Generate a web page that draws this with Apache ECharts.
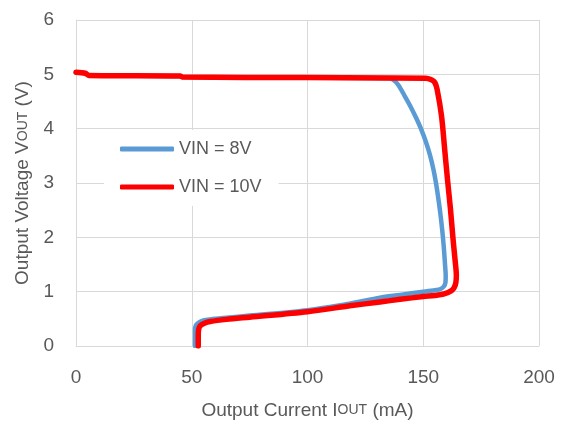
<!DOCTYPE html>
<html>
<head>
<meta charset="utf-8">
<script src="https://cdn.jsdelivr.net/npm/echarts@6/dist/echarts.min.js"></script>
<style>html,body{margin:0;padding:0;background:#fff}#c{width:563px;height:425px}</style>
</head>
<body>
<div id="c"></div>
<script>
var seriesNames = ['VIN = 8V', 'VIN = 10V'];
var xTicks = [0, 50, 100, 150, 200];
var yTicks = [0, 1, 2, 3, 4, 5, 6];
// Output current (mA) and output voltage (V), traced in order along each curve
var vin8Current = [0, 4, 5.5, 45, 46, 100, 135, 137, 139.3, 142, 144.6, 146.9, 149.0, 151.2, 153.0, 154.4, 155.5, 156.4, 157.2, 157.9, 158.5, 159.0, 159.4, 159.7, 159.6, 158.8, 157.5, 155.7, 150, 140, 131.3, 118, 100, 75, 65, 58, 55, 53, 51.8, 51.4, 51.4];
var vin8Voltage = [5.04, 5.02, 4.98, 4.97, 4.95, 4.94, 4.93, 4.9, 4.8, 4.6, 4.4, 4.2, 4.0, 3.75, 3.5, 3.25, 3.0, 2.75, 2.5, 2.25, 2.0, 1.75, 1.5, 1.3, 1.17, 1.09, 1.05, 1.03, 1.0, 0.94, 0.89, 0.78, 0.66, 0.56, 0.52, 0.49, 0.47, 0.43, 0.38, 0.3, 0];
var vin10Current = [0, 4, 5.5, 45, 46, 100, 151, 153.5, 155, 156, 157.9, 159.3, 160.6, 161.8, 162.8, 163.7, 164.3, 164.1, 163.4, 162.2, 159, 155, 150, 140, 131.3, 118.3, 100, 75, 65, 58, 55.5, 53.6, 53, 52.8, 52.8];
var vin10Voltage = [5.04, 5.02, 4.98, 4.97, 4.95, 4.94, 4.93, 4.9, 4.85, 4.72, 4.23, 3.6, 3.01, 2.5, 2.0, 1.6, 1.3, 1.17, 1.08, 1.02, 0.96, 0.93, 0.91, 0.86, 0.81, 0.74, 0.63, 0.53, 0.49, 0.45, 0.42, 0.37, 0.31, 0.2, 0];

function pairs(xs, ys) { return xs.map(function (x, i) { return [x, ys[i]]; }); }

var font = 'Liberation Sans';
var textColor = '#595959';
var gridColor = '#d9d9d9';

var chart = echarts.init(document.getElementById('c'));
chart.setOption({
  animation: false,
  backgroundColor: '#fff',
  grid: { left: 76, right: 24, top: 20, bottom: 78, containLabel: false },
  legend: {
    orient: 'vertical',
    left: 104, top: 130,
    padding: [9, 17, 9, 16],
    backgroundColor: '#fff',
    itemWidth: 54, itemHeight: 5, itemGap: 18,
    icon: 'roundRect',
    textStyle: { fontFamily: font, fontSize: 18, color: textColor, lineHeight: 20 },
    data: seriesNames
  },
  xAxis: {
    type: 'value', min: xTicks[0], max: xTicks[xTicks.length - 1], interval: 50,
    name: 'Output Current I{s|OUT} (mA)',
    nameLocation: 'middle', nameGap: 55,
    nameTextStyle: { fontFamily: font, fontSize: 19, color: textColor, rich: { s: { fontFamily: font, fontSize: 14, color: textColor } } },
    axisLine: { show: true, lineStyle: { color: gridColor, width: 1 } },
    axisTick: { show: false },
    axisLabel: { fontFamily: font, fontSize: 19, color: textColor, margin: 22 },
    splitLine: { show: true, lineStyle: { color: gridColor, width: 1 } }
  },
  yAxis: {
    type: 'value', min: yTicks[0], max: yTicks[yTicks.length - 1], interval: 1,
    name: 'Output Voltage V{s|OUT} (V)',
    nameLocation: 'middle', nameGap: 40,
    nameTextStyle: { fontFamily: font, fontSize: 19, color: textColor, rich: { s: { fontFamily: font, fontSize: 14, color: textColor } } },
    axisLine: { show: true, lineStyle: { color: gridColor, width: 1 } },
    axisTick: { show: false },
    axisLabel: { fontFamily: font, fontSize: 19, color: textColor, margin: 22 },
    splitLine: { show: true, lineStyle: { color: gridColor, width: 1 } }
  },
  series: [
    {
      name: seriesNames[0], type: 'line', data: pairs(vin8Current, vin8Voltage),
      showSymbol: false, symbol: 'none', smooth: 0.3,
      lineStyle: { color: '#5b9bd5', width: 4.5, cap: 'round', join: 'round' },
      itemStyle: { color: '#5b9bd5' }
    },
    {
      name: seriesNames[1], type: 'line', data: pairs(vin10Current, vin10Voltage),
      showSymbol: false, symbol: 'none', smooth: 0.3,
      lineStyle: { color: '#ff0000', width: 5.5, cap: 'round', join: 'round' },
      itemStyle: { color: '#ff0000' }
    }
  ]
});
</script>
</body>
</html>
